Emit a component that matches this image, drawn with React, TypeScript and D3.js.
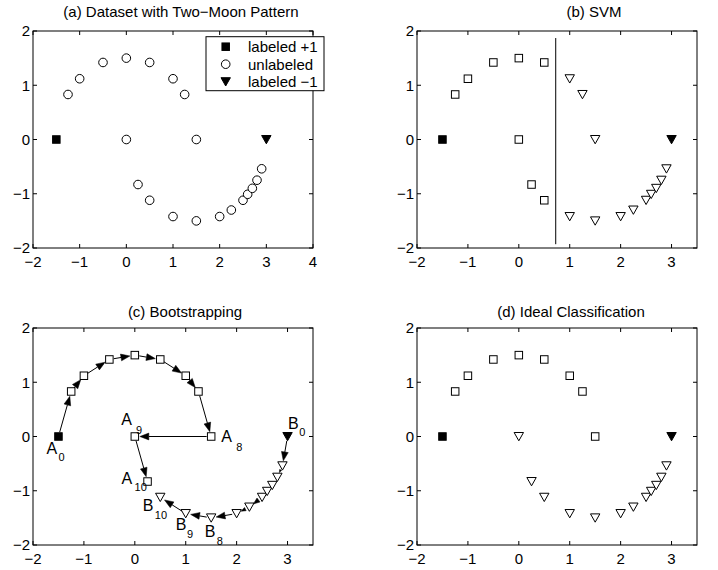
import React from 'react';
import * as d3 from 'd3';

// ---------------- data ----------------
const pointsX = [-1.25, -1, -0.5, 0, 0.5, 1, 1.25, 1.5, 0, 0.25, 0.5, 1, 1.5, 2, 2.25, 2.5, 2.6, 2.7, 2.8, 2.9];
const pointsY = [0.83, 1.12, 1.42, 1.5, 1.42, 1.12, 0.83, 0, 0, -0.83, -1.12, -1.42, -1.5, -1.42, -1.3, -1.12, -1.01, -0.9, -0.75, -0.54];
const labeledPositive = [-1.5, 0];
const labeledNegative = [3, 0];
const svmClass = [1, 1, 1, 1, 1, -1, -1, -1, 1, 1, 1, -1, -1, -1, -1, -1, -1, -1, -1, -1];
const bootstrapClass = [1, 1, 1, 1, 1, 1, 1, 1, 1, 1, -1, -1, -1, -1, -1, -1, -1, -1, -1, -1];
const idealClass = [1, 1, 1, 1, 1, 1, 1, 1, -1, -1, -1, -1, -1, -1, -1, -1, -1, -1, -1, -1];
// -1 = labeled +1 point, -2 = labeled -1 point, otherwise index into points
const pathA = [-1, 0, 1, 2, 3, 4, 5, 6, 7, 8, 9];
const pathB = [-2, 19, 18, 17, 16, 15, 14, 13, 12, 11, 10];
const annotatedSteps = [0, 8, 9, 10];
const yTicks = [-2, -1, 0, 1, 2];
const xTicksWide = [-2, -1, 0, 1, 2, 3, 4];
const xTicksNarrow = [-2, -1, 0, 1, 2, 3];
const svmBoundaryX = 0.725;
const svmBoundaryY = [1.87, -1.93];
const legendLabels = ['labeled +1', 'unlabeled', 'labeled \u22121'];
const titles = ['(a) Dataset with Two\u2212Moon Pattern', '(b) SVM', '(c) Bootstrapping', '(d) Ideal Classification'];

// ---------------- layout ----------------
const FONT = '"Liberation Sans", Arial, Helvetica, sans-serif';
const TICK = 4;
const SQ = 7.5;
const CR = 4.3;
const FS = 15;

const labelOffsets: Record<string, { dx: number; dy: number; sdx: number; sdy: number }> = {
  A0: { dx: -12, dy: 17, sdx: 0, sdy: 24.5 },
  A8: { dx: 10, dy: 5.5, sdx: 25, sdy: 14 },
  A9: { dx: -13.5, dy: -11.5, sdx: 1.2, sdy: -3 },
  A10: { dx: -26, dy: 2.5, sdx: -13, sdy: 9 },
  B0: { dx: 0.5, dy: -8, sdx: 11.8, sdy: -0.5 },
  B10: { dx: -17.5, dy: 13.4, sdx: -5.5, sdy: 21.5 },
  B9: { dx: -10, dy: 16.5, sdx: 1.3, sdy: 24.5 },
  B8: { dx: -6.5, dy: 18.8, sdx: 5.5, sdy: 27.5 },
};

const fmt = (t: number) => (t < 0 ? '\u2212' + Math.abs(t) : String(t));

function Frame({ x, y, xTicks }: any) {
  const [x0, x1] = x.range();
  const [yb, yt] = y.range();
  return (
    <g>
      <rect x={x0} y={yt} width={x1 - x0} height={yb - yt} fill="white" stroke="black" strokeWidth={1} />
      {xTicks.map((t: number) => (
        <g key={'x' + t}>
          <line x1={x(t)} x2={x(t)} y1={yb} y2={yb - TICK} stroke="black" />
          <line x1={x(t)} x2={x(t)} y1={yt} y2={yt + TICK} stroke="black" />
          <text x={x(t)} y={yb + 19} textAnchor="middle" fontSize={FS}>{fmt(t)}</text>
        </g>
      ))}
      {yTicks.map((t: number) => (
        <g key={'y' + t}>
          <line x1={x0} x2={x0 + TICK} y1={y(t)} y2={y(t)} stroke="black" />
          <line x1={x1} x2={x1 - TICK} y1={y(t)} y2={y(t)} stroke="black" />
          <text x={x0 - 3} y={y(t) + 5.4} textAnchor="end" fontSize={FS}>{fmt(t)}</text>
        </g>
      ))}
    </g>
  );
}

function Square({ cx, cy, filled }: any) {
  return <rect x={cx - SQ / 2} y={cy - SQ / 2} width={SQ} height={SQ} fill={filled ? 'black' : 'white'} stroke="black" strokeWidth={1} />;
}
function Circle({ cx, cy }: any) {
  return <circle cx={cx} cy={cy} r={CR} fill="white" stroke="black" strokeWidth={1} />;
}
function Tri({ cx, cy, filled }: any) {
  const d = `M${cx - 4.7},${cy - 4}L${cx + 4.7},${cy - 4}L${cx},${cy + 4.3}Z`;
  return <path d={d} fill={filled ? 'black' : 'white'} stroke="black" strokeWidth={1} strokeLinejoin="miter" />;
}

function Arrow({ x1, y1, x2, y2 }: any) {
  const dx = x2 - x1, dy = y2 - y1;
  const L = Math.hypot(dx, dy);
  const ux = dx / L, uy = dy / L;
  const sp = 4.5, ep = 5;
  const len = L - sp - ep;
  if (len <= 0.5) return null;
  const sx = x1 + ux * sp, sy = y1 + uy * sp;
  const ex = x2 - ux * ep, ey = y2 - uy * ep;
  const head = Math.min(9, len);
  const hw = head * 0.38;
  const bx = ex - ux * head, by = ey - uy * head;
  return (
    <g>
      <line x1={sx} y1={sy} x2={bx} y2={by} stroke="black" strokeWidth={1} />
      <path d={`M${ex},${ey}L${bx - uy * hw},${by + ux * hw}L${bx + uy * hw},${by - ux * hw}Z`} fill="black" stroke="black" strokeWidth={0.5} />
    </g>
  );
}

function ClassPanel({ x, y, classes }: any) {
  return (
    <g>
      {pointsX.map((px, i) =>
        classes[i] > 0 ? (
          <Square key={i} cx={x(px)} cy={y(pointsY[i])} />
        ) : (
          <Tri key={i} cx={x(px)} cy={y(pointsY[i])} />
        )
      )}
      <Square cx={x(labeledPositive[0])} cy={y(labeledPositive[1])} filled />
      <Tri cx={x(labeledNegative[0])} cy={y(labeledNegative[1])} filled />
    </g>
  );
}

export default function App() {
  const yTop = d3.scaleLinear().domain([-2, 2]).range([248, 31]);
  const yBot = d3.scaleLinear().domain([-2, 2]).range([545, 328]);
  const xA = d3.scaleLinear().domain([-2, 4]).range([33, 313]);
  const xB = d3.scaleLinear().domain([-2, 3.5]).range([417, 697]);
  const xC = d3.scaleLinear().domain([-2, 3.5]).range([33, 313]);
  const xD = d3.scaleLinear().domain([-2, 3.5]).range([417, 697]);

  const nodeXY = (idx: number, x: any, y: any) => {
    if (idx === -1) return [x(labeledPositive[0]), y(labeledPositive[1])];
    if (idx === -2) return [x(labeledNegative[0]), y(labeledNegative[1])];
    return [x(pointsX[idx]), y(pointsY[idx])];
  };

  const chains = [
    { name: 'A', path: pathA },
    { name: 'B', path: pathB },
  ];

  return (
    <svg width={718} height={570} style={{ position: 'absolute', left: 0, top: 0, display: 'block' }} fontFamily={FONT}>
      <rect width={718} height={570} fill="white" />
      {/* (a) */}
      <text x={181} y={17} textAnchor="middle" fontSize={FS}>{titles[0]}</text>
      <Frame x={xA} y={yTop} xTicks={xTicksWide} />
      {pointsX.map((px, i) => (
        <Circle key={i} cx={xA(px)} cy={yTop(pointsY[i])} />
      ))}
      <Square cx={xA(labeledPositive[0])} cy={yTop(labeledPositive[1])} filled />
      <Tri cx={xA(labeledNegative[0])} cy={yTop(labeledNegative[1])} filled />
      <g>
        <rect x={206} y={36.7} width={118} height={54} fill="white" stroke="black" strokeWidth={1} />
        {legendLabels.map((lab, i) => {
          const cy = 46.7 + i * 17.5;
          return (
            <g key={lab}>
              {i === 0 && <Square cx={225.7} cy={cy} filled />}
              {i === 1 && <Circle cx={225.7} cy={cy} />}
              {i === 2 && <Tri cx={225.7} cy={cy} filled />}
              <text x={248} y={cy + 5.3} fontSize={FS}>{lab}</text>
            </g>
          );
        })}
      </g>

      {/* (b) */}
      <text x={594} y={17} textAnchor="middle" fontSize={FS}>{titles[1]}</text>
      <Frame x={xB} y={yTop} xTicks={xTicksNarrow} />
      <ClassPanel x={xB} y={yTop} classes={svmClass} />
      <line x1={xB(svmBoundaryX)} x2={xB(svmBoundaryX)} y1={yTop(svmBoundaryY[0])} y2={yTop(svmBoundaryY[1])} stroke="black" strokeWidth={1} />

      {/* (c) */}
      <text x={185} y={317} textAnchor="middle" fontSize={FS}>{titles[2]}</text>
      <Frame x={xC} y={yBot} xTicks={xTicksNarrow} />
      <ClassPanel x={xC} y={yBot} classes={bootstrapClass} />
      {chains.map((c) =>
        c.path.slice(1).map((idx, k) => {
          const [x1, y1] = nodeXY(c.path[k], xC, yBot);
          const [x2, y2] = nodeXY(idx, xC, yBot);
          return <Arrow key={c.name + k} x1={x1} y1={y1} x2={x2} y2={y2} />;
        })
      )}
      {chains.map((c) =>
        annotatedSteps.map((s) => {
          const [px, py] = nodeXY(c.path[s], xC, yBot);
          const o = labelOffsets[c.name + s];
          return (
            <g key={c.name + 'lab' + s}>
              <text x={px + o.dx} y={py + o.dy} fontSize={16}>{c.name}</text>
              <text x={px + o.sdx} y={py + o.sdy} fontSize={11}>{String(s)}</text>
            </g>
          );
        })
      )}

      {/* (d) */}
      <text x={571} y={317} textAnchor="middle" fontSize={FS}>{titles[3]}</text>
      <Frame x={xD} y={yBot} xTicks={xTicksNarrow} />
      <ClassPanel x={xD} y={yBot} classes={idealClass} />
    </svg>
  );
}
